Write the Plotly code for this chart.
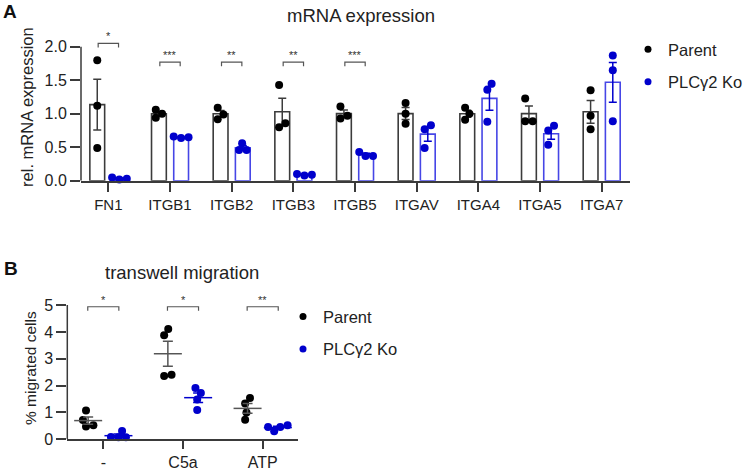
import numpy as np
import plotly.graph_objects as go

# ---------------- data ----------------
genes = ["FN1", "ITGB1", "ITGB2", "ITGB3", "ITGB5", "ITGAV", "ITGA4", "ITGA5", "ITGA7"]
parent_mrna = [
    [1.80, 1.12, 0.49],
    [1.06, 0.94, 1.00],
    [1.09, 0.92, 0.99],
    [1.43, 0.80, 0.86],
    [1.11, 0.93, 0.97],
    [1.16, 1.00, 0.85],
    [1.09, 0.91, 1.00],
    [1.23, 0.89, 0.89],
    [1.35, 0.97, 0.77],
]
ko_mrna = [
    [0.02, 0.05, 0.03],
    [0.64, 0.65, 0.66],
    [0.56, 0.46, 0.46],
    [0.08, 0.10, 0.09],
    [0.43, 0.37, 0.37],
    [0.83, 0.77, 0.49],
    [1.45, 1.36, 0.88],
    [0.82, 0.75, 0.54],
    [1.87, 1.65, 0.89],
]
sig_mrna = ["*", "***", "**", "**", "***", "", "", "", ""]
sig_mrna_level = [2.05, 1.77, 1.77, 1.77, 1.77, None, None, None, None]

conditions = ["-", "C5a", "ATP"]
parent_mig = [
    [1.07, 0.72, 0.47, 0.52],
    [3.88, 4.11, 2.36, 2.40],
    [1.33, 1.54, 1.00, 0.73],
]
ko_mig = [
    [0.31, 0.07, 0.07, 0.08],
    [1.72, 1.91, 1.48, 1.09],
    [0.30, 0.52, 0.46, 0.46],
]
sig_mig = ["*", "*", "**"]
sig_mig_level = [4.94, 4.94, 4.94]

series_names = ["Parent", "PLCγ2 Ko"]

# ---------------- style ----------------
FONT = "Arial, Liberation Sans, sans-serif"
BLACK = "#000000"
BLUE = "#0000cc"
PAR_LINE = "#3c3c3c"
KO_LINE = "#4646e6"
AX = "#3a3a3a"
W, H = 749, 476

# pixel scales (for beeswarm spreading)
A_XPX, A_YPX = 61.67, 68.3
B_XPX, B_YPX = 79.7, 27.34
DOT = 8


def swarm(vals, yscale, d):
    idx = sorted(range(len(vals)), key=lambda i: vals[i])
    placed = {}
    for i in idx:
        y = vals[i] * yscale
        intervals = []
        for j, (px, py) in placed.items():
            dy = abs(py - y)
            if dy < d:
                hw = np.sqrt(d * d - dy * dy)
                intervals.append((px - hw, px + hw))
        cands = [0.0] + [e for iv in intervals for e in iv]
        cands = sorted(cands, key=lambda c: (abs(c), -c))
        for c in cands:
            if all(not (a + 1e-6 < c < b - 1e-6) for a, b in intervals):
                placed[i] = (c, y)
                break
    xs = [placed[i][0] for i in range(len(vals))]
    shift = -(min(xs) + max(xs)) / 2
    return [x + shift for x in xs]


def mean_sem(v):
    v = np.asarray(v, float)
    return v.mean(), v.std(ddof=1) / np.sqrt(len(v))


fig = go.Figure()

# ---------------- panel A ----------------
offA = 0.18
for s, (data, line_c, dot_c, err_c) in enumerate([
    (parent_mrna, PAR_LINE, BLACK, PAR_LINE),
    (ko_mrna, KO_LINE, BLUE, BLUE),
]):
    sign = -1 if s == 0 else 1
    xs = [i + sign * offA for i in range(len(genes))]
    ms = [mean_sem(v) for v in data]
    fig.add_trace(go.Bar(
        x=xs, y=[m for m, _ in ms], width=0.24,
        marker=dict(color="white", line=dict(color=line_c, width=1.6)),
        error_y=dict(type="data", array=[e for _, e in ms], color=err_c,
                     thickness=1.5, width=4),
        xaxis="x", yaxis="y", showlegend=False, hoverinfo="skip",
    ))
    px_, py_ = [], []
    for i, v in enumerate(data):
        offs = swarm(v, A_YPX, DOT - 0.5)
        px_ += [xs[i] + o / A_XPX for o in offs]
        py_ += list(v)
    fig.add_trace(go.Scatter(
        x=px_, y=py_, mode="markers",
        marker=dict(color=dot_c, size=DOT),
        xaxis="x", yaxis="y", showlegend=False, cliponaxis=False,
    ))

shapes = []
annotations = []
dA = 4 / A_YPX
for i, (s, lvl) in enumerate(zip(sig_mrna, sig_mrna_level)):
    if not s:
        continue
    x0, x1 = i - 0.165, i + 0.165
    shapes.append(dict(type="path", xref="x", yref="y",
                       path=f"M {x0},{lvl - dA} L {x0},{lvl} L {x1},{lvl} L {x1},{lvl - dA}",
                       line=dict(color="#555555", width=1.2)))
    annotations.append(dict(x=i, y=lvl, xref="x", yref="y", text=s, showarrow=False,
                            xanchor="center", yanchor="middle", yshift=7,
                            font=dict(size=11, color="#333333", family=FONT)))
# y axis line for A (only up to 2.0)
shapes.append(dict(type="line", xref="x domain", yref="y", x0=0, x1=0, y0=0, y1=2.0,
                   line=dict(color=AX, width=1.5)))

# ---------------- panel B ----------------
offB = 0.19
for s, (data, dot_c, err_c) in enumerate([
    (parent_mig, BLACK, "#555555"),
    (ko_mig, BLUE, BLUE),
]):
    sign = -1 if s == 0 else 1
    xs = [i + sign * offB for i in range(len(conditions))]
    px_, py_ = [], []
    for i, v in enumerate(data):
        offs = swarm(v, B_YPX, DOT - 0.5)
        px_ += [xs[i] + o / B_XPX for o in offs]
        py_ += list(v)
    fig.add_trace(go.Scatter(
        x=px_, y=py_, mode="markers",
        marker=dict(color=dot_c, size=DOT),
        xaxis="x2", yaxis="y2", showlegend=False, cliponaxis=False,
    ))
    ms = [mean_sem(v) for v in data]
    fig.add_trace(go.Scatter(
        x=xs, y=[m for m, _ in ms], mode="markers",
        marker=dict(symbol="line-ew", size=20, color=err_c,
                    line=dict(color=err_c, width=1.5)),
        error_y=dict(type="data", array=[e for _, e in ms], color=err_c,
                     thickness=1.5, width=5),
        xaxis="x2", yaxis="y2", showlegend=False, cliponaxis=False,
    ))

dB = 4 / B_YPX
for i, (s, lvl) in enumerate(zip(sig_mig, sig_mig_level)):
    x0, x1 = i - 0.195, i + 0.195
    shapes.append(dict(type="path", xref="x2", yref="y2",
                       path=f"M {x0},{lvl - dB} L {x0},{lvl} L {x1},{lvl} L {x1},{lvl - dB}",
                       line=dict(color="#555555", width=1.2)))
    annotations.append(dict(x=i, y=lvl, xref="x2", yref="y2", text=s, showarrow=False,
                            xanchor="center", yanchor="middle", yshift=7,
                            font=dict(size=11, color="#333333", family=FONT)))
shapes.append(dict(type="line", xref="x2 domain", yref="y2", x0=0, x1=0, y0=0, y1=5.0,
                   line=dict(color=AX, width=1.5)))

# ---------------- legends (legend-only entries) ----------------
for name, col, lg, grp in [
    (series_names[0], BLACK, "legend", "a1"), (series_names[1], BLUE, "legend", "a2"),
    (series_names[0], BLACK, "legend2", "b1"), (series_names[1], BLUE, "legend2", "b2"),
]:
    fig.add_trace(go.Scatter(x=[None], y=[None], mode="markers", name=name,
                             marker=dict(color=col, size=7), legend=lg, legendgroup=grp,
                             xaxis="x", yaxis="y"))

# ---------------- titles / panel letters ----------------
def paper_x(px):
    return px / W


def paper_y(py):
    return 1 - py / H


def label(text, x, y, size, color="#222"):
    return dict(text=text, x=paper_x(x), y=paper_y(y), xref="paper", yref="paper",
                xanchor="center", yanchor="middle", showarrow=False,
                font=dict(size=size, color=color, family=FONT))


annotations += [
    label("<b>A</b>", 9.5, 12, 19, "#111"),
    label("<b>B</b>", 10.5, 273.5, 19, "#111"),
    label("mRNA expression", 361, 16, 18.5),
    label("transwell migration", 182, 278, 18.5),
]

tick_common = dict(showgrid=False, zeroline=False, ticks="outside", tickcolor=AX,
                   tickwidth=1.5, fixedrange=True)

fig.update_layout(
    width=W, height=H,
    margin=dict(l=0, r=0, t=0, b=0),
    plot_bgcolor="white", paper_bgcolor="white",
    font=dict(family=FONT, color="#222"),
    barmode="overlay",
    showlegend=True,
    xaxis=dict(domain=[81 / W, 630 / W], range=[-0.4435, 8.459],
               tickvals=list(range(len(genes))), ticktext=genes,
               showline=True, linecolor=AX, linewidth=1.5,
               ticklen=9, tickfont=dict(size=15), anchor="y", **tick_common),
    yaxis=dict(domain=[1 - 184.3 / H, 1 - 34.04 / H], range=[0, 2.2],
               tickvals=[0, 0.5, 1.0, 1.5, 2.0], ticktext=["0.0", "0.5", "1.0", "1.5", "2.0"],
               showline=False, ticklen=10, tickfont=dict(size=16), anchor="x",
               title=dict(text="rel. mRNA expression", font=dict(size=16.5), standoff=6),
               **tick_common),
    xaxis2=dict(domain=[67.3 / W, 298.3 / W], range=[-0.4517, 2.4467],
                tickvals=list(range(len(conditions))), ticktext=conditions,
                showline=True, linecolor=AX, linewidth=1.5,
                ticklen=8, tickfont=dict(size=16), anchor="y2", **tick_common),
    yaxis2=dict(domain=[1 - 447.7 / H, 1 - 302.8 / H], range=[0, 5.3],
                tickvals=[0, 1, 2, 3, 4, 5], showline=False, ticklen=10,
                tickfont=dict(size=16), anchor="x2",
                title=dict(text="% migrated cells", font=dict(size=15.5), standoff=3),
                **tick_common),
    legend=dict(x=paper_x(628), y=paper_y(32.7), xanchor="left", yanchor="top",
                font=dict(size=16.5, color="#222"), traceorder="grouped",
                tracegroupgap=8, bgcolor="rgba(0,0,0,0)", itemsizing="trace"),
    legend2=dict(x=paper_x(283), y=paper_y(305), xanchor="left", yanchor="top",
                 font=dict(size=16.5, color="#222"), traceorder="grouped",
                 tracegroupgap=8, bgcolor="rgba(0,0,0,0)", itemsizing="trace"),
    shapes=shapes,
    annotations=annotations,
)

fig.write_html("out.html", config={"displayModeBar": False},
               post_script="document.body.style.margin='0';document.body.style.padding='0';")
